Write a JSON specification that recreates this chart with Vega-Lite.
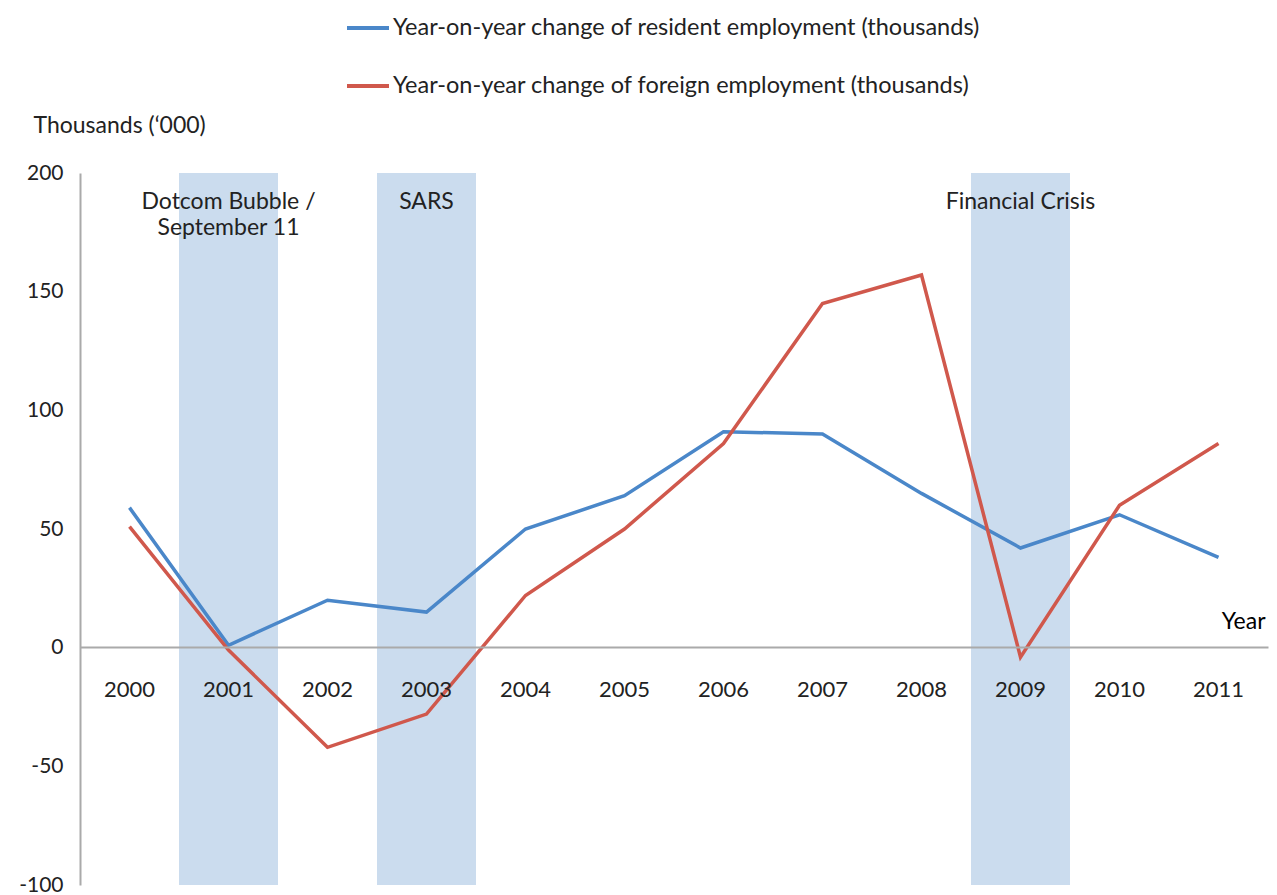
{
  "$schema": "https://vega.github.io/schema/vega-lite/v6.json",
  "autosize": "none",
  "padding": {"left": 80, "top": 173, "right": 9, "bottom": 10},
  "width": 1188,
  "height": 712,
  "background": "white",
  "config": {
    "view": {"stroke": null},
    "font": "Lato",
    "text": {"font": "Lato"}
  },
  "datasets": {
    "series": [
      {"year": "2000", "series": "Year-on-year change of resident employment (thousands)", "value": 59},
      {"year": "2001", "series": "Year-on-year change of resident employment (thousands)", "value": 1},
      {"year": "2002", "series": "Year-on-year change of resident employment (thousands)", "value": 20},
      {"year": "2003", "series": "Year-on-year change of resident employment (thousands)", "value": 15},
      {"year": "2004", "series": "Year-on-year change of resident employment (thousands)", "value": 50},
      {"year": "2005", "series": "Year-on-year change of resident employment (thousands)", "value": 64},
      {"year": "2006", "series": "Year-on-year change of resident employment (thousands)", "value": 91},
      {"year": "2007", "series": "Year-on-year change of resident employment (thousands)", "value": 90},
      {"year": "2008", "series": "Year-on-year change of resident employment (thousands)", "value": 65},
      {"year": "2009", "series": "Year-on-year change of resident employment (thousands)", "value": 42},
      {"year": "2010", "series": "Year-on-year change of resident employment (thousands)", "value": 56},
      {"year": "2011", "series": "Year-on-year change of resident employment (thousands)", "value": 38},
      {"year": "2000", "series": "Year-on-year change of foreign employment (thousands)", "value": 51},
      {"year": "2001", "series": "Year-on-year change of foreign employment (thousands)", "value": -1},
      {"year": "2002", "series": "Year-on-year change of foreign employment (thousands)", "value": -42},
      {"year": "2003", "series": "Year-on-year change of foreign employment (thousands)", "value": -28},
      {"year": "2004", "series": "Year-on-year change of foreign employment (thousands)", "value": 22},
      {"year": "2005", "series": "Year-on-year change of foreign employment (thousands)", "value": 50},
      {"year": "2006", "series": "Year-on-year change of foreign employment (thousands)", "value": 86},
      {"year": "2007", "series": "Year-on-year change of foreign employment (thousands)", "value": 145},
      {"year": "2008", "series": "Year-on-year change of foreign employment (thousands)", "value": 157},
      {"year": "2009", "series": "Year-on-year change of foreign employment (thousands)", "value": -4},
      {"year": "2010", "series": "Year-on-year change of foreign employment (thousands)", "value": 60},
      {"year": "2011", "series": "Year-on-year change of foreign employment (thousands)", "value": 86}
    ],
    "events": [
      {"year": "2001", "label": ["Dotcom Bubble /", "September 11"]},
      {"year": "2003", "label": ["SARS"]},
      {"year": "2009", "label": ["Financial Crisis"]}
    ]
  },
  "layer": [
    {
      "data": {"name": "events"},
      "mark": {"type": "rect", "color": "#cbdcee", "opacity": 1},
      "encoding": {
        "x": {"field": "year", "type": "nominal"},
        "y": {"datum": -100, "type": "quantitative"},
        "y2": {"datum": 200}
      }
    },
    {
      "data": {"name": "series"},
      "mark": {"type": "line", "strokeWidth": 3.5},
      "encoding": {
        "x": {
          "field": "year",
          "type": "nominal",
          "scale": {"domain": ["2000","2001","2002","2003","2004","2005","2006","2007","2008","2009","2010","2011"], "paddingInner": 0, "paddingOuter": 0},
          "axis": {
            "orient": "bottom",
            "offset": -238,
            "bandPosition": 0.5,
            "domainColor": "#aaaaaa",
            "domainWidth": 2,
            "ticks": false,
            "labelAngle": 0,
            "labelAlign": "center",
            "labelPadding": 42,
            "labelFontSize": 22,
            "labelColor": "#222222",
            "labelFont": "Lato",
            "title": "Year",
            "titleFont": "Lato",
            "titleFontSize": 23,
            "titleFontWeight": "normal",
            "titleColor": "#000000",
            "titleAnchor": "end",
            "titleAlign": "right",
            "titleBaseline": "middle",
            "titleX": 1185,
            "titleY": -26
          }
        },
        "y": {
          "field": "value",
          "type": "quantitative",
          "scale": {"domain": [-100, 200], "nice": false, "zero": false},
          "axis": {
            "values": [-100, -50, 0, 50, 100, 150, 200],
            "labelExpr": "'' + datum.value",
            "grid": false,
            "ticks": false,
            "domainColor": "#aaaaaa",
            "domainWidth": 2,
            "labelPadding": 17,
            "labelFontSize": 21,
            "labelColor": "#222222",
            "labelFont": "Lato",
            "title": "Thousands (‘000)",
            "titleFont": "Lato",
            "titleFontSize": 23,
            "titleFontWeight": "normal",
            "titleColor": "#222222",
            "titleAngle": 0,
            "titleAlign": "left",
            "titleBaseline": "middle",
            "titleX": -47,
            "titleY": -48
          }
        },
        "color": {
          "field": "series",
          "type": "nominal",
          "scale": {
            "domain": ["Year-on-year change of resident employment (thousands)", "Year-on-year change of foreign employment (thousands)"],
            "range": ["#4a87c9", "#d0584c"]
          },
          "legend": {
            "orient": "none",
            "legendX": 265,
            "legendY": -168,
            "title": null,
            "symbolType": "stroke",
            "symbolSize": 1764,
            "symbolStrokeWidth": 4,
            "labelFont": "Lato",
            "labelFontSize": 23.5,
            "labelColor": "#222222",
            "labelLimit": 900,
            "labelOffset": 2,
            "rowPadding": 23
          }
        }
      }
    },
    {
      "data": {"name": "events"},
      "mark": {"type": "text", "fontSize": 23, "color": "#222222", "baseline": "alphabetic", "align": "center", "lineHeight": 26, "font": "Lato"},
      "encoding": {
        "x": {"field": "year", "type": "nominal"},
        "y": {"datum": 185, "type": "quantitative"},
        "text": {"field": "label"}
      }
    }
  ]
}
